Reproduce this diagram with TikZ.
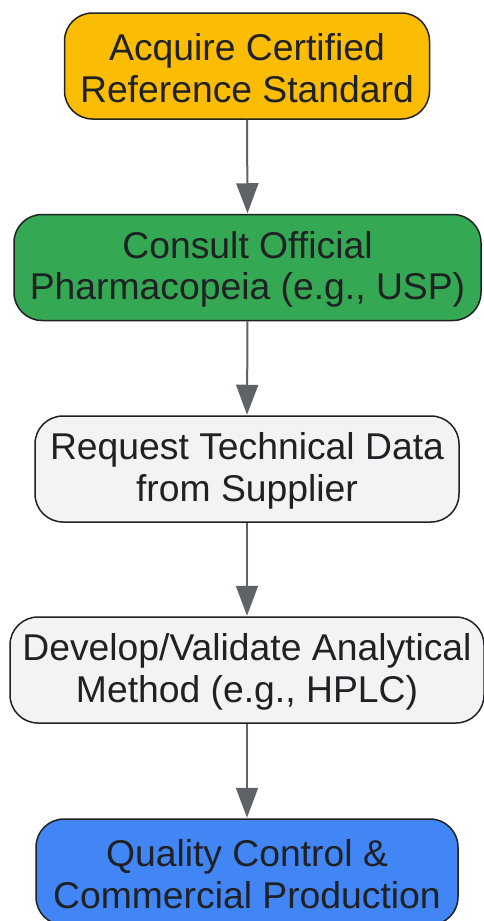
\documentclass[tikz,border=0pt]{standalone}
\usepackage{fontspec}
\setmainfont{Liberation Sans}
\usetikzlibrary{arrows.meta}
\definecolor{cOrange}{HTML}{FBBC04}
\definecolor{cGreen}{HTML}{34A853}
\definecolor{cGray}{HTML}{F1F3F4}
\definecolor{cBlue}{HTML}{4285F4}
\definecolor{cText}{HTML}{202124}
\definecolor{cArrow}{HTML}{5F6368}
\tikzset{
  stepbox/.style={draw=cText, line width=1.5pt, rounded corners=28pt,
    minimum height=106pt, inner sep=0pt},
  steplabel/.style={inner sep=0pt, align=center, text=cText,
    font=\fontsize{37.3}{41.5}\selectfont},
  flow/.style={draw=cArrow, line width=2pt, -{Triangle[width=22pt,length=30pt]}, shorten >=0.5pt}
}
\begin{document}
\begin{tikzpicture}[x=1pt,y=-1pt]
\useasboundingbox (0,0) rectangle (483,921);
\node[stepbox, fill=cOrange, minimum width=365pt] (n1) at (247,66) {};
\node[stepbox, fill=cGreen, minimum width=467pt] (n2) at (247.5,267.5) {};
\node[stepbox, fill=cGray, minimum width=424pt] (n3) at (247,469) {};
\node[stepbox, fill=cGray, minimum width=474pt] (n4) at (247,670) {};
\node[stepbox, fill=cBlue, minimum width=422pt] (n5) at (247,872) {};
\node[steplabel] (t1) at ([yshift=-2pt]n1.center) {Acquire Certified\\Reference Standard};
\node[steplabel] (t2) at ([yshift=-2pt]n2.center) {Consult Official\\Pharmacopeia (e.g., USP)};
\node[steplabel] (t3) at ([yshift=-2pt]n3.center) {Request Technical Data\\from Supplier};
\node[steplabel] (t4) at ([yshift=-2pt]n4.center) {Develop/Validate Analytical\\Method (e.g., HPLC)};
\node[steplabel] (t5) at ([yshift=-2pt]n5.center) {Quality Control \&\\Commercial Production};
\draw[flow] (n1.south) -- (n2.north);
\draw[flow] (n2.south) -- (n3.north);
\draw[flow] (n3.south) -- (n4.north);
\draw[flow] (n4.south) -- (n5.north);
\end{tikzpicture}
\end{document}
